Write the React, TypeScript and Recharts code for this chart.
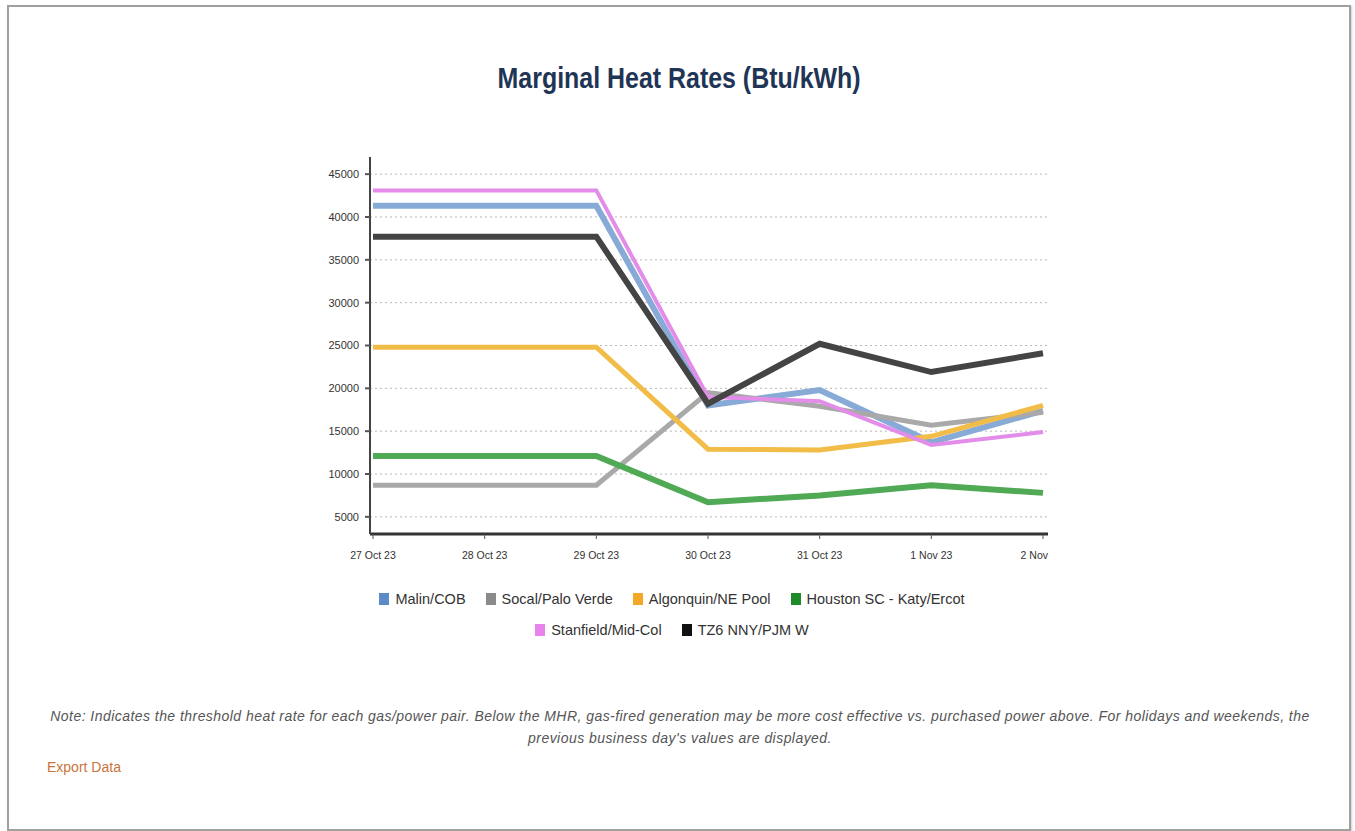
import React from 'react';
import { LineChart, Line, XAxis, YAxis, ReferenceLine } from 'recharts';

const dates = ['27 Oct 23', '28 Oct 23', '29 Oct 23', '30 Oct 23', '31 Oct 23', '1 Nov 23', '2 Nov'];
const malin = [41300, 41300, 41300, 18000, 19800, 13700, 17400];
const socal = [8700, 8700, 8700, 19500, 17900, 15700, 17200];
const algonquin = [24800, 24800, 24800, 12900, 12800, 14400, 18000];
const houston = [12100, 12100, 12100, 6700, 7500, 8700, 7800];
const stanfield = [43100, 43100, 43100, 19000, 18500, 13400, 14900];
const tz6 = [37700, 37700, 37700, 18200, 25200, 21900, 24100];
const yTicks = [5000, 10000, 15000, 20000, 25000, 30000, 35000, 40000, 45000];

const seriesNames = ['Malin/COB', 'Socal/Palo Verde', 'Algonquin/NE Pool', 'Houston SC - Katy/Ercot', 'Stanfield/Mid-Col', 'TZ6 NNY/PJM W'];

const series = [
  { key: 'malin', name: seriesNames[0], values: malin, line: '#87aad6', icon: '#5b8cc8', width: 6 },
  { key: 'socal', name: seriesNames[1], values: socal, line: '#a9a9a9', icon: '#8a8a8a', width: 5 },
  { key: 'algonquin', name: seriesNames[2], values: algonquin, line: '#f1bd48', icon: '#f3a925', width: 5 },
  { key: 'houston', name: seriesNames[3], values: houston, line: '#4fa955', icon: '#1f8a2a', width: 6 },
  { key: 'stanfield', name: seriesNames[4], values: stanfield, line: '#e38ce9', icon: '#e982ec', width: 4 },
  { key: 'tz6', name: seriesNames[5], values: tz6, line: '#444444', icon: '#111111', width: 6 },
];

const data = dates.map((d, i) => {
  const row: Record<string, string | number> = { date: d };
  series.forEach((s) => { row[s.key] = s.values[i]; });
  return row;
});

const font = '"Liberation Sans", Arial, sans-serif';

const XTick = (props: any) => {
  const { x, y, payload, index } = props;
  const last = index === dates.length - 1;
  return (
    <text x={last ? x + 5 : x} y={y + 18} textAnchor={last ? 'end' : 'middle'} fontSize={10.5} fill="#333" fontFamily={font}>
      {payload.value}
    </text>
  );
};

const LegendItem = ({ name, color }: { name: string; color: string }) => (
  <span style={{ display: 'inline-flex', alignItems: 'center', margin: '0 10px' }}>
    <span style={{ width: 10, height: 12, background: color, display: 'inline-block', marginRight: 6 }} />
    <span>{name}</span>
  </span>
);

export default function App() {
  return (
    <div style={{ position: 'absolute', left: 0, top: 0, width: 1355, height: 831, background: '#fff', fontFamily: font }}>
      <div style={{ position: 'absolute', left: 7, top: 5, width: 1344, height: 826, border: '2px solid #a0a0a0', boxSizing: 'border-box', boxShadow: '1px 1px 2px #ccc' }} />
      <div style={{ position: 'absolute', left: 0, top: 62, width: 1358, textAlign: 'center' }}>
        <span style={{ display: 'inline-block', transform: 'scaleX(0.86)', fontWeight: 'bold', fontSize: 29, color: '#1f3556' }}>
          Marginal Heat Rates (Btu/kWh)
        </span>
      </div>
      <div style={{ position: 'absolute', left: 0, top: 0 }}>
        <LineChart width={1355} height={600} data={data} margin={{ top: 157, right: 307, bottom: 36, left: 320 }}>
          <XAxis
            dataKey="date"
            height={30}
            padding={{ left: 3, right: 5 }}
            axisLine={{ stroke: '#333', strokeWidth: 3 }}
            tickLine={{ stroke: '#555' }}
            tickSize={5}
            tick={<XTick />}
            interval={0}
          />
          <YAxis
            width={50}
            domain={[3000, 47000]}
            ticks={yTicks}
            axisLine={{ stroke: '#444', strokeWidth: 2 }}
            tickLine={{ stroke: '#555', strokeWidth: 2 }}
            tickSize={5}
            tick={{ fontSize: 11, fill: '#333', fontFamily: font, dx: -4 }}
          />
          {yTicks.map((t) => (
            <ReferenceLine key={t} y={t} stroke="#b8b8b8" strokeDasharray="2 3" />
          ))}
          {series.map((s) => (
            <Line
              key={s.key}
              type="linear"
              dataKey={s.key}
              name={s.name}
              stroke={s.line}
              strokeWidth={s.width}
              dot={false}
              activeDot={false}
              isAnimationActive={false}
            />
          ))}
        </LineChart>
      </div>
      <div style={{ position: 'absolute', left: 0, top: 584, width: 1344, textAlign: 'center', fontSize: 14.5, color: '#333', lineHeight: '30px' }}>
        <div>
          {series.slice(0, 4).map((s) => <LegendItem key={s.key} name={s.name} color={s.icon} />)}
        </div>
        <div>
          {series.slice(4).map((s) => <LegendItem key={s.key} name={s.name} color={s.icon} />)}
        </div>
      </div>
      <div style={{ position: 'absolute', left: 20, top: 705, width: 1320, textAlign: 'center', fontStyle: 'italic', fontSize: 14, letterSpacing: 0.45, color: '#555', lineHeight: '22px' }}>
        Note: Indicates the threshold heat rate for each gas/power pair. Below the MHR, gas-fired generation may be more cost effective vs. purchased power above. For holidays and weekends, the
        <br />
        previous business day's values are displayed.
      </div>
      <div style={{ position: 'absolute', left: 47, top: 759, fontSize: 14, color: '#c8743c' }}>Export Data</div>
    </div>
  );
}
